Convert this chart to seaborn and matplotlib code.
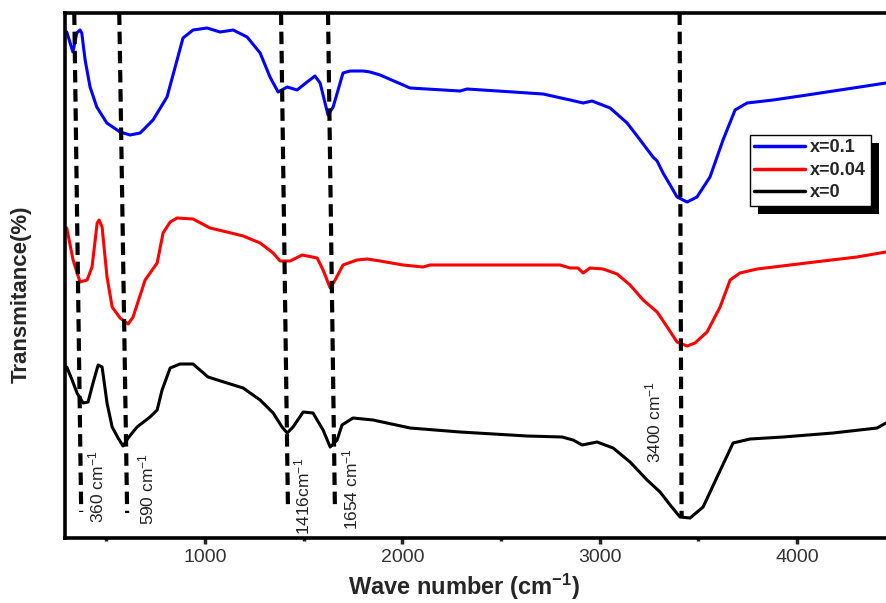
import pandas as pd
import matplotlib
matplotlib.use("Agg")
import matplotlib.pyplot as plt
import seaborn as sns
from matplotlib.ticker import MultipleLocator
from matplotlib.patches import Rectangle
from matplotlib.transforms import IdentityTransform

# FTIR spectra (relative transmittance, curves stacked)
wn_01 = [299, 330, 350, 366, 375, 392, 417, 451, 502, 569, 620, 671, 736, 807, 858, 888,
         939, 1010, 1076, 1142, 1213, 1279, 1329, 1370, 1416, 1466, 1517, 1557, 1583, 1623,
         1649, 1699, 1735, 1801, 1836, 1887, 2039, 2292, 2328, 2561, 2713, 2850, 2916, 2961,
         3053, 3139, 3205, 3270, 3291, 3321, 3357, 3392, 3443, 3493, 3559, 3625, 3686, 3747,
         3879, 4051, 4218, 4451]
t_01 = [508, 488, 507, 510, 507, 480, 453, 433, 417, 408, 405, 407, 420, 443, 480, 502,
        510, 512, 508, 510, 503, 487, 463, 448, 453, 450, 458, 464, 457, 425,
        433, 467, 469, 469, 468, 465, 452, 449, 451, 448, 446, 440, 437, 439,
        432, 417, 400, 383, 379, 367, 355, 343, 338, 343, 363, 400, 430, 437,
        440, 445, 450, 457]

wn_004 = [299, 331, 366, 402, 427, 453, 463, 478, 503, 529, 569, 610, 635, 696, 757, 787,
          823, 858, 939, 1025, 1111, 1193, 1279, 1345, 1380, 1431, 1492, 1568, 1598, 1634,
          1659, 1699, 1770, 1821, 1887, 2003, 2105, 2140, 2799, 2850, 2890, 2916, 2951, 3017,
          3088, 3154, 3220, 3291, 3342, 3392, 3443, 3483, 3544, 3610, 3661, 3711, 3798, 3965,
          4132, 4304, 4451]
t_004 = [312, 280, 258, 260, 273, 317, 320, 313, 263, 233, 222, 216, 223, 260, 277, 307,
         318, 322, 321, 312, 308, 304, 297, 287, 279, 279, 285, 282, 270, 252,
         260, 275, 280, 281, 279, 275, 273, 275, 275, 272, 272, 267, 272, 271,
         266, 255, 240, 228, 213, 198, 194, 197, 208, 233, 260, 267, 271, 275,
         279, 283, 288]

wn_0 = [299, 326, 351, 382, 407, 432, 458, 478, 503, 529, 559, 584, 610, 655, 721, 757,
        782, 823, 873, 939, 1015, 1111, 1193, 1279, 1345, 1390, 1416, 1446, 1497, 1547,
        1598, 1634, 1669, 1694, 1750, 1851, 2039, 2292, 2632, 2809, 2865, 2911, 2987, 3068,
        3154, 3240, 3306, 3357, 3407, 3458, 3524, 3595, 3676, 3762, 3929, 4183, 4406, 4451]
t_0 = [173, 160, 147, 137, 138, 157, 175, 173, 137, 113, 102, 94, 102, 113, 123, 130,
       150, 172, 176, 176, 163, 157, 152, 140, 127, 113, 107, 113, 128, 127,
       110, 93, 100, 115, 122, 120, 112, 108, 104, 103, 100, 95, 98, 92,
       78, 60, 48, 35, 23, 22, 33, 63, 97, 101, 103, 107, 112, 117]

samples = ["x=0.1", "x=0.04", "x=0"]
colors = ["#0000ff", "#ff0000", "#000000"]

# marked bands: dashed guide lines (slightly tilted in the original) and labels
peak_labels = ["360 cm$^{-1}$", "590 cm$^{-1}$", "1416cm$^{-1}$", "1654 cm$^{-1}$", "3400 cm$^{-1}$"]
line_x_top = [337, 565, 1385, 1623, 3405]
line_x_bottom = [372, 605, 1420, 1658, 3415]
line_y_bottom = [28, 27, 32, 32, 22]
label_x = [448, 701, 1492, 1735, 3270]
label_y = [17, 15, 5, 10, 77]

df = pd.concat([
    pd.DataFrame({"wn": wn_01, "T": t_01, "sample": "x=0.1"}),
    pd.DataFrame({"wn": wn_004, "T": t_004, "sample": "x=0.04"}),
    pd.DataFrame({"wn": wn_0, "T": t_0, "sample": "x=0"}),
])

sns.set_style("white")
plt.rcParams["font.family"] = ["Liberation Sans", "DejaVu Sans"]
plt.rcParams["mathtext.fontset"] = "custom"
plt.rcParams["mathtext.rm"] = "Liberation Sans"
plt.rcParams["mathtext.it"] = "Liberation Sans"
plt.rcParams["mathtext.bf"] = "Liberation Sans:bold"

fig = plt.figure(figsize=(8.86, 6.03), dpi=100)
ax = fig.add_axes([65 / 886, 1 - 538 / 603, 821 / 886, 525.5 / 603])

sns.lineplot(data=df, x="wn", y="T", hue="sample", hue_order=samples, palette=colors,
             estimator=None, sort=False, linewidth=2.2, ax=ax,
             solid_joinstyle="round", solid_capstyle="round")

ax.set_xlim(290, 4451)
ax.set_ylim(2, 527.5)

for xt, xb, yb in zip(line_x_top, line_x_bottom, line_y_bottom):
    ax.plot([xt, xb], [527.5, yb], color="black", linewidth=3, linestyle=(0, (3, 1.6)),
            zorder=3, clip_on=False)

for txt, lx, ly in zip(peak_labels, label_x, label_y):
    ax.text(lx, ly, txt, rotation=90, ha="center", va="bottom", fontsize=12.5, color="#222222")

ax.set_yticks([])
ax.xaxis.set_major_locator(MultipleLocator(1000))
ax.xaxis.set_minor_locator(MultipleLocator(500))
ax.tick_params(axis="x", which="major", direction="out", length=4, width=2.5,
               labelsize=14, labelcolor="#333333", pad=4, bottom=True)
ax.tick_params(axis="x", which="minor", direction="out", length=2, width=2.5, bottom=True)

for side in ["left", "bottom", "top"]:
    ax.spines[side].set_linewidth(2.6)
    ax.spines[side].set_color("black")
ax.spines["right"].set_visible(False)

ax.set_xlabel("Wave number (cm$^{\\mathbf{-1}}$)", fontsize=17, fontweight="bold")
ax.set_ylabel("Transmitance(%)", fontsize=16, fontweight="bold")
ax.xaxis.set_label_coords(0.486, -0.064)
ax.yaxis.set_label_coords(-0.04, 0.464)

old = ax.get_legend()
handles = old.legend_handles
labels = [t.get_text() for t in old.texts]
for h in handles:
    h.set_linewidth(2.5)
leg = ax.legend(handles, labels, loc="upper left", bbox_to_anchor=(0.834, 0.767),
                borderaxespad=0, frameon=True, fancybox=False, framealpha=1,
                edgecolor="black", borderpad=0.25, labelspacing=0.3,
                handlelength=2.8, handletextpad=0.3,
                prop={"weight": "bold", "size": 13})
leg.get_frame().set_linewidth(1.0)

fig.canvas.draw()
bb = leg.get_window_extent()
shadow = Rectangle((bb.x0 + 8, bb.y0 - 8), bb.width, bb.height, transform=IdentityTransform(),
                   facecolor="black", edgecolor="none", zorder=4.5)
ax.add_artist(shadow)

fig.savefig("out.png", dpi=100)
